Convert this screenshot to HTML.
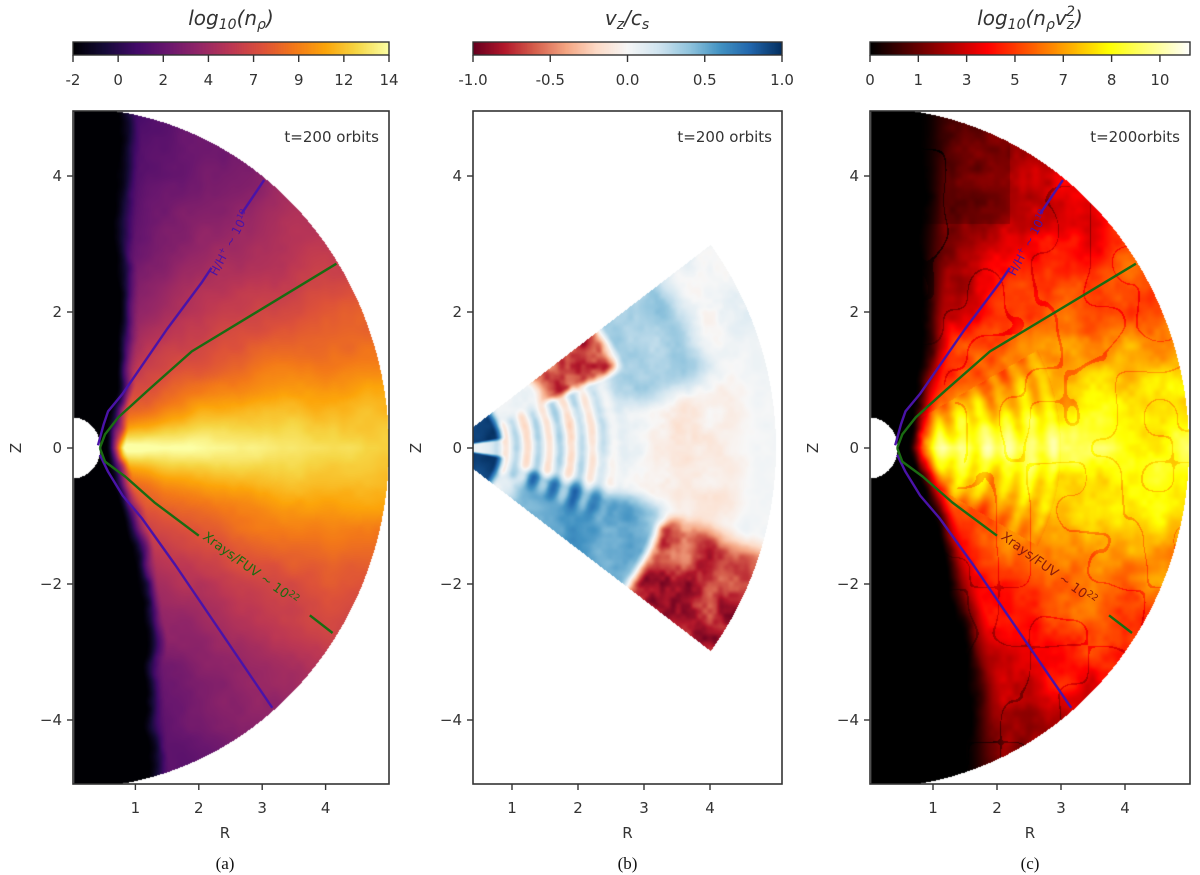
<!DOCTYPE html>
<html><head><meta charset="utf-8">
<style>
html,body{margin:0;padding:0;background:#fff;}
#root{position:relative;width:1200px;height:875px;overflow:hidden;font-family:"DejaVu Sans","Liberation Sans",sans-serif;}
canvas{position:absolute;}
svg{position:absolute;left:0;top:0;}
</style></head>
<body>
<div id="root">
<canvas id="ca" width="316" height="673" style="left:73px;top:111px"></canvas>
<canvas id="cb" width="309" height="673" style="left:473px;top:111px"></canvas>
<canvas id="cc" width="320" height="673" style="left:870px;top:111px"></canvas>
<canvas id="ba" width="316" height="13" style="left:73px;top:42px"></canvas>
<canvas id="bb" width="309" height="13" style="left:473px;top:42px"></canvas>
<canvas id="bc" width="320" height="13" style="left:870px;top:42px"></canvas>
<svg id="ov" width="1200" height="875"></svg>
</div>
<script>
// ---- data ----
const xTicks=[1,2,3,4];
const yTicks=[4,2,0,-2,-4];
const cbTicksA=["-2","0","2","4","7","9","12","14"];
const cbTicksB=["-1.0","-0.5","0.0","0.5","1.0"];
const cbTicksC=["0","1","3","5","7","8","10"];
const greenUpperX=[0.44,0.52,0.73,1.2,1.89,4.17];
const greenUpperZ=[0.0,0.2,0.45,0.85,1.42,2.71];
const greenLowerX=[0.44,0.52,0.84,1.3,2.0];
const greenLowerZ=[0.0,-0.2,-0.42,-0.8,-1.29];
const greenLowerEndX=[3.75,4.11];
const greenLowerEndZ=[-2.46,-2.72];
const purpleUpperX=[0.41,0.5,0.57,0.8,1.0,1.5,2.05,2.2];
const purpleUpperZ=[0.04,0.35,0.54,0.8,1.07,1.75,2.44,2.65];
const purpleUpperEndX=[2.67,3.03];
const purpleUpperEndZ=[3.44,3.94];
const purpleLowerX=[0.44,0.57,0.8,1.1,1.63,3.16];
const purpleLowerZ=[-0.1,-0.35,-0.7,-1.03,-1.72,-3.82];

// ---- geometry ----
const Z0=448, KZ=68;
const panels=[
 {id:'a',left:73,right:389,x0:72,kx:63.4},
 {id:'b',left:473,right:782,x0:446,kx:66},
 {id:'c',left:870,right:1190,x0:869,kx:64}
];
const TOP=111,BOT=784;
function sx(p,x){return p.x0+x*p.kx;}
function sy(z){return Z0-z*KZ;}

// ---- colormaps ----
const inferno=["#000004","#160b39","#420a68","#6a176e","#932667","#bc3754","#dd513a","#f37819","#fca50a","#f6d746","#fcffa4"];
const rdbu=["#67001f","#b2182b","#d6604d","#f4a582","#fddbc7","#f7f7f7","#d1e5f0","#92c5de","#4393c3","#2166ac","#053061"];
function hex(h){return [parseInt(h.substr(1,2),16),parseInt(h.substr(3,2),16),parseInt(h.substr(5,2),16)];}
function mk(st){const s=st.map(hex);return t=>{t=Math.max(0,Math.min(1,t));const f=t*(s.length-1);const i=Math.min(s.length-2,Math.floor(f));const u=f-i;return [0,1,2].map(k=>s[i][k]+(s[i+1][k]-s[i][k])*u);};}
const cInf=mk(inferno), cRdBu=mk(rdbu);
function cHot(t){t=Math.max(0,Math.min(1,t));const r=Math.min(1,t/0.365),g=Math.max(0,Math.min(1,(t-0.365)/0.381)),b=Math.max(0,(t-0.746)/0.254);return [r*255,g*255,b*255];}

// ---- noise ----
function h2(i,j){let n=i*374761393+j*668265263;n=(n^(n>>13))*1274126177;return ((n^(n>>16))&0xffff)/65535;}
function vn(x,y){const i=Math.floor(x),j=Math.floor(y),u=x-i,v=y-j;const a=h2(i,j),b=h2(i+1,j),c=h2(i,j+1),d=h2(i+1,j+1);const su=u*u*(3-2*u),sv=v*v*(3-2*v);return a+(b-a)*su+(c-a)*sv+(a-b-c+d)*su*sv;}
function fbm(x,y){return vn(x,y)*0.55+vn(x*2.3,y*2.3)*0.3+vn(x*5,y*5)*0.15;}
function sm(a,b,x){const t=Math.max(0,Math.min(1,(x-a)/(b-a)));return t*t*(3-2*t);}
function clamp(x,a,b){return Math.max(a,Math.min(b,x));}

function paint(cid,p,field,cmap){
 const cv=document.getElementById(cid),ctx=cv.getContext('2d');
 const W=cv.width,H=cv.height,img=ctx.createImageData(W,H);
 for(let py=0;py<H;py++)for(let px=0;px<W;px++){
  const x=(p.left+px+0.5-p.x0)/p.kx, z=(Z0-(TOP+py+0.5))/KZ;
  const v=field(x,z);const o=(py*W+px)*4;
  if(v===null){img.data[o]=255;img.data[o+1]=255;img.data[o+2]=255;img.data[o+3]=255;continue;}
  const c=cmap(v);img.data[o]=c[0];img.data[o+1]=c[1];img.data[o+2]=c[2];img.data[o+3]=255;
 }
 ctx.putImageData(img,0,0);
}
function fieldA(x,z){
 const r=Math.hypot(x,z);if(r>5||r<0.45||x<0.03)return null;
 const th=Math.abs(Math.atan2(z,x));const n=fbm(x*1.5+3,z*1.5);
 const edge=0.62+0.25*n+0.45*clamp(-z/3,0,1)-0.2*Math.exp(-z*z*1.5);
 let v=12.3-0.4*r-9*(th/1.35)+2.0*Math.exp(-Math.pow(th/0.3,2))+(n-0.5)*1.4;
 if(th<0.35)v+=0.8*Math.exp(-r*0.6)*(1-th/0.35);
 if(x<edge+0.3){const f=sm(edge-0.05,edge+0.3,x);v=-2+(v+2)*f;}
 return (v+2)/16;
}
function fieldB(x,z){
 const r=Math.hypot(x,z);const th=Math.atan2(z,x);
 if(r>5||x<0.41||Math.abs(th)>0.64)return null;
 const n=fbm(x*2.5,z*2.5)-0.5;
 let v=0.05+n*0.3;
 const ws=sm(0.6,0.9,r)*(1-sm(2.0,2.9,r))*(1-sm(0.35,0.5,Math.abs(th)));
 v+=0.22*Math.sin(2*Math.PI*r/0.33)*ws;
 let w=sm(2.2,3.0,r)*(1-sm(3.8,4.4,r))*sm(0.15,0.3,th); v+=0.3*w;
 w=sm(1.0,1.4,r)*(1-sm(3.2,3.8,r))*sm(0.2,0.32,-th); v+=0.5*w;
 w=sm(2.8,3.3,r)*(1-sm(4.3,4.8,r))*sm(-0.4,-0.05,-th)*(1-sm(0.3,0.45,-th)); v-=0.15*w;
 w=sm(1.5,1.8,r)*(1-sm(2.7,3.0,r))*sm(0.38,0.46,th); v=v*(1-w)+(-0.75+n*1.2)*w;
 w=sm(3.3,3.6,r)*sm(0.25,0.35,-th); v=v*(1-w)+(-0.7+n*0.8-(r-3.5)*0.1)*w;
 w=1-sm(0.75,0.95,r); w*=sm(0.1,0.2,Math.abs(th)); v=v*(1-w)+(0.95+n*0.2)*w;
 v*=1-0.6*sm(3.6,4.8,r)*(1-sm(0.2,0.5,Math.abs(th)));
 return (v+1)/2;
}
function fieldC(x,z){
 const r=Math.hypot(x,z);if(r>5||r<0.45||x<0.03)return null;
 const th=Math.abs(Math.atan2(z,x));const n=fbm(x*2+7,z*2);
 const edge=0.68+0.3*n+0.75*clamp(-z/3.5,0,1)-0.2*Math.exp(-z*z*1.5);
 let v=0.84-0.62*(th/1.3)+0.05*Math.exp(-Math.pow(th/0.3,2))+(n-0.5)*0.25-0.02*r;
 if(th<0.5&&r<3)v+=0.05*Math.sin(2*Math.PI*r/0.35);
 const vein=Math.abs(vn(x*2.2,z*2.2)-0.5);if(vein<0.018&&r>1.5)v-=0.1;
 if(x<edge+0.45){const f=sm(edge-0.05,edge+0.45,x);v=v*f;}
 if(z>3.3&&x<2.2)v*=0.8;
 return v;
}
paint('ca',panels[0],fieldA,cInf);
paint('cb',panels[1],fieldB,cRdBu);
paint('cc',panels[2],fieldC,cHot);
function bar(cid,cmap){const cv=document.getElementById(cid),ctx=cv.getContext('2d');for(let i=0;i<cv.width;i++){const c=cmap(i/(cv.width-1));ctx.fillStyle=`rgb(${c[0]|0},${c[1]|0},${c[2]|0})`;ctx.fillRect(i,0,1,cv.height);}}
bar('ba',cInf);bar('bb',cRdBu);bar('bc',cHot);

// ---- overlay ----
const NS="http://www.w3.org/2000/svg",ov=document.getElementById('ov');
function el(tag,attrs,txt){const e=document.createElementNS(NS,tag);for(const k in attrs)e.setAttribute(k,attrs[k]);if(txt!==undefined)e.textContent=txt;ov.appendChild(e);return e;}
const ink="#333";
panels.forEach((p,pi)=>{
 const f=el('rect',{x:p.left,y:TOP,width:p.right-p.left,height:BOT-TOP,fill:'none',stroke:ink,'stroke-width':1.6});
 
 
 xTicks.forEach(t=>{const X=sx(p,t);
  const l=el('line',{x1:X,x2:X,y1:BOT,y2:BOT+6,stroke:ink,'stroke-width':1.4});
  
  
  const tx=el('text',{x:X,y:BOT+29,'text-anchor':'middle','font-size':15,fill:ink},String(t));
  
  });
 yTicks.forEach(t=>{const Y=sy(t);
  const l=el('line',{x1:p.left-6,x2:p.left,y1:Y,y2:Y,stroke:ink,'stroke-width':1.4});
  
  
  const tx=el('text',{x:p.left-11,y:Y+5,'text-anchor':'end','font-size':15,fill:ink},String(t).replace('-','\u2212'));
  
  });
 const cx=(p.left+p.right)/2;
 const xl=el('text',{x:cx-(pi==0?6:0),y:838,'text-anchor':'middle','font-size':15,fill:ink},'R');
 
 
 const zl=el('text',{x:p.left-52,y:Z0,'text-anchor':'middle','font-size':15,fill:ink,transform:`rotate(-90 ${p.left-52} ${Z0})`},'Z');
 
 
 const cap=el('text',{x:cx-(pi==0?6:0),y:869,'text-anchor':'middle','font-size':17,fill:'#111','font-family':'Liberation Serif, serif'},'('+p.id+')');
 
 
 const tt=el('text',{x:p.right-10,y:142,'text-anchor':'end','font-size':15,fill:ink},pi==2?'t=200orbits':'t=200 orbits');
 
 
 const bf=el('rect',{x:p.left,y:42,width:p.right-p.left,height:13,fill:'none',stroke:ink,'stroke-width':1.4});
 
 
 const labs=[cbTicksA,cbTicksB,cbTicksC][pi];
 labs.forEach((s,i)=>{const X=pi==2?p.left+i*(p.right-p.left)*0.151:p.left+i*(p.right-p.left)/(labs.length-1);
  const l=el('line',{x1:X,x2:X,y1:55,y2:62,stroke:ink,'stroke-width':1.4});
  
  
  const t=el('text',{x:X,y:85,'text-anchor':'middle','font-size':15,fill:ink},s);
  
  });
});
function title(x,html,name){const t=el('text',{x:x,y:25,'text-anchor':'middle','font-size':20,fill:ink,'font-style':'italic'});t.innerHTML=html;}
title(231,'log<tspan font-size="14" dy="4">10</tspan><tspan dy="-4">(n</tspan><tspan font-size="14" dy="4">ρ</tspan><tspan dy="-4">)</tspan>','colorbar-title-a');
title(627,'v<tspan font-size="14" dy="4">z</tspan><tspan dy="-4">/c</tspan><tspan font-size="14" dy="4">s</tspan>','colorbar-title-b');
title(1030,'log<tspan font-size="14" dy="4">10</tspan><tspan dy="-4">(n</tspan><tspan font-size="14" dy="4">ρ</tspan><tspan dy="-4">v</tspan><tspan font-size="14" dy="4">z</tspan><tspan font-size="14" dx="-8" dy="-13">2</tspan><tspan dy="9">)</tspan>','colorbar-title-c');

function poly(p,xs,zs,col,name){const pts=xs.map((x,i)=>sx(p,x).toFixed(1)+','+sy(zs[i]).toFixed(1)).join(' ');
 const e=el('polyline',{points:pts,fill:'none',stroke:col,'stroke-width':2.4,'stroke-linejoin':'round'});
 
 }
[panels[0],panels[2]].forEach(p=>{
 const G='#1a6b12',P='#4a13a8';
 poly(p,purpleUpperX,purpleUpperZ,P,'hydrogen-contour-upper');
 poly(p,purpleUpperEndX,purpleUpperEndZ,P,'hydrogen-contour-upper-end');
 poly(p,purpleLowerX,purpleLowerZ,P,'hydrogen-contour-lower');
 poly(p,greenUpperX,greenUpperZ,G,'xray-contour-upper');
 poly(p,greenLowerX,greenLowerZ,G,'xray-contour-lower');
 poly(p,greenLowerEndX,greenLowerEndZ,G,'xray-contour-lower-end');
 const gx=sx(p,2.05),gy=sy(-1.33);
 const t1=el('text',{x:gx,y:gy,'font-size':13,fill:p.id=='c'?'#8a1a0a':G,transform:`rotate(36 ${gx} ${gy})`});
 t1.innerHTML='Xrays/FUV ~ 10<tspan font-size="9" dy="-5">22</tspan>';
 
 
 const hx=sx(p,2.28),hy=sy(2.52);
 const t2=el('text',{x:hx,y:hy,'font-size':12,fill:P,transform:`rotate(-62 ${hx} ${hy})`});
 t2.innerHTML='H/H<tspan font-size="8" dy="-5">+</tspan><tspan dy="5"> ~ 10</tspan><tspan font-size="8" dy="-5">19</tspan>';
 
 
});
</script>
</body></html>
